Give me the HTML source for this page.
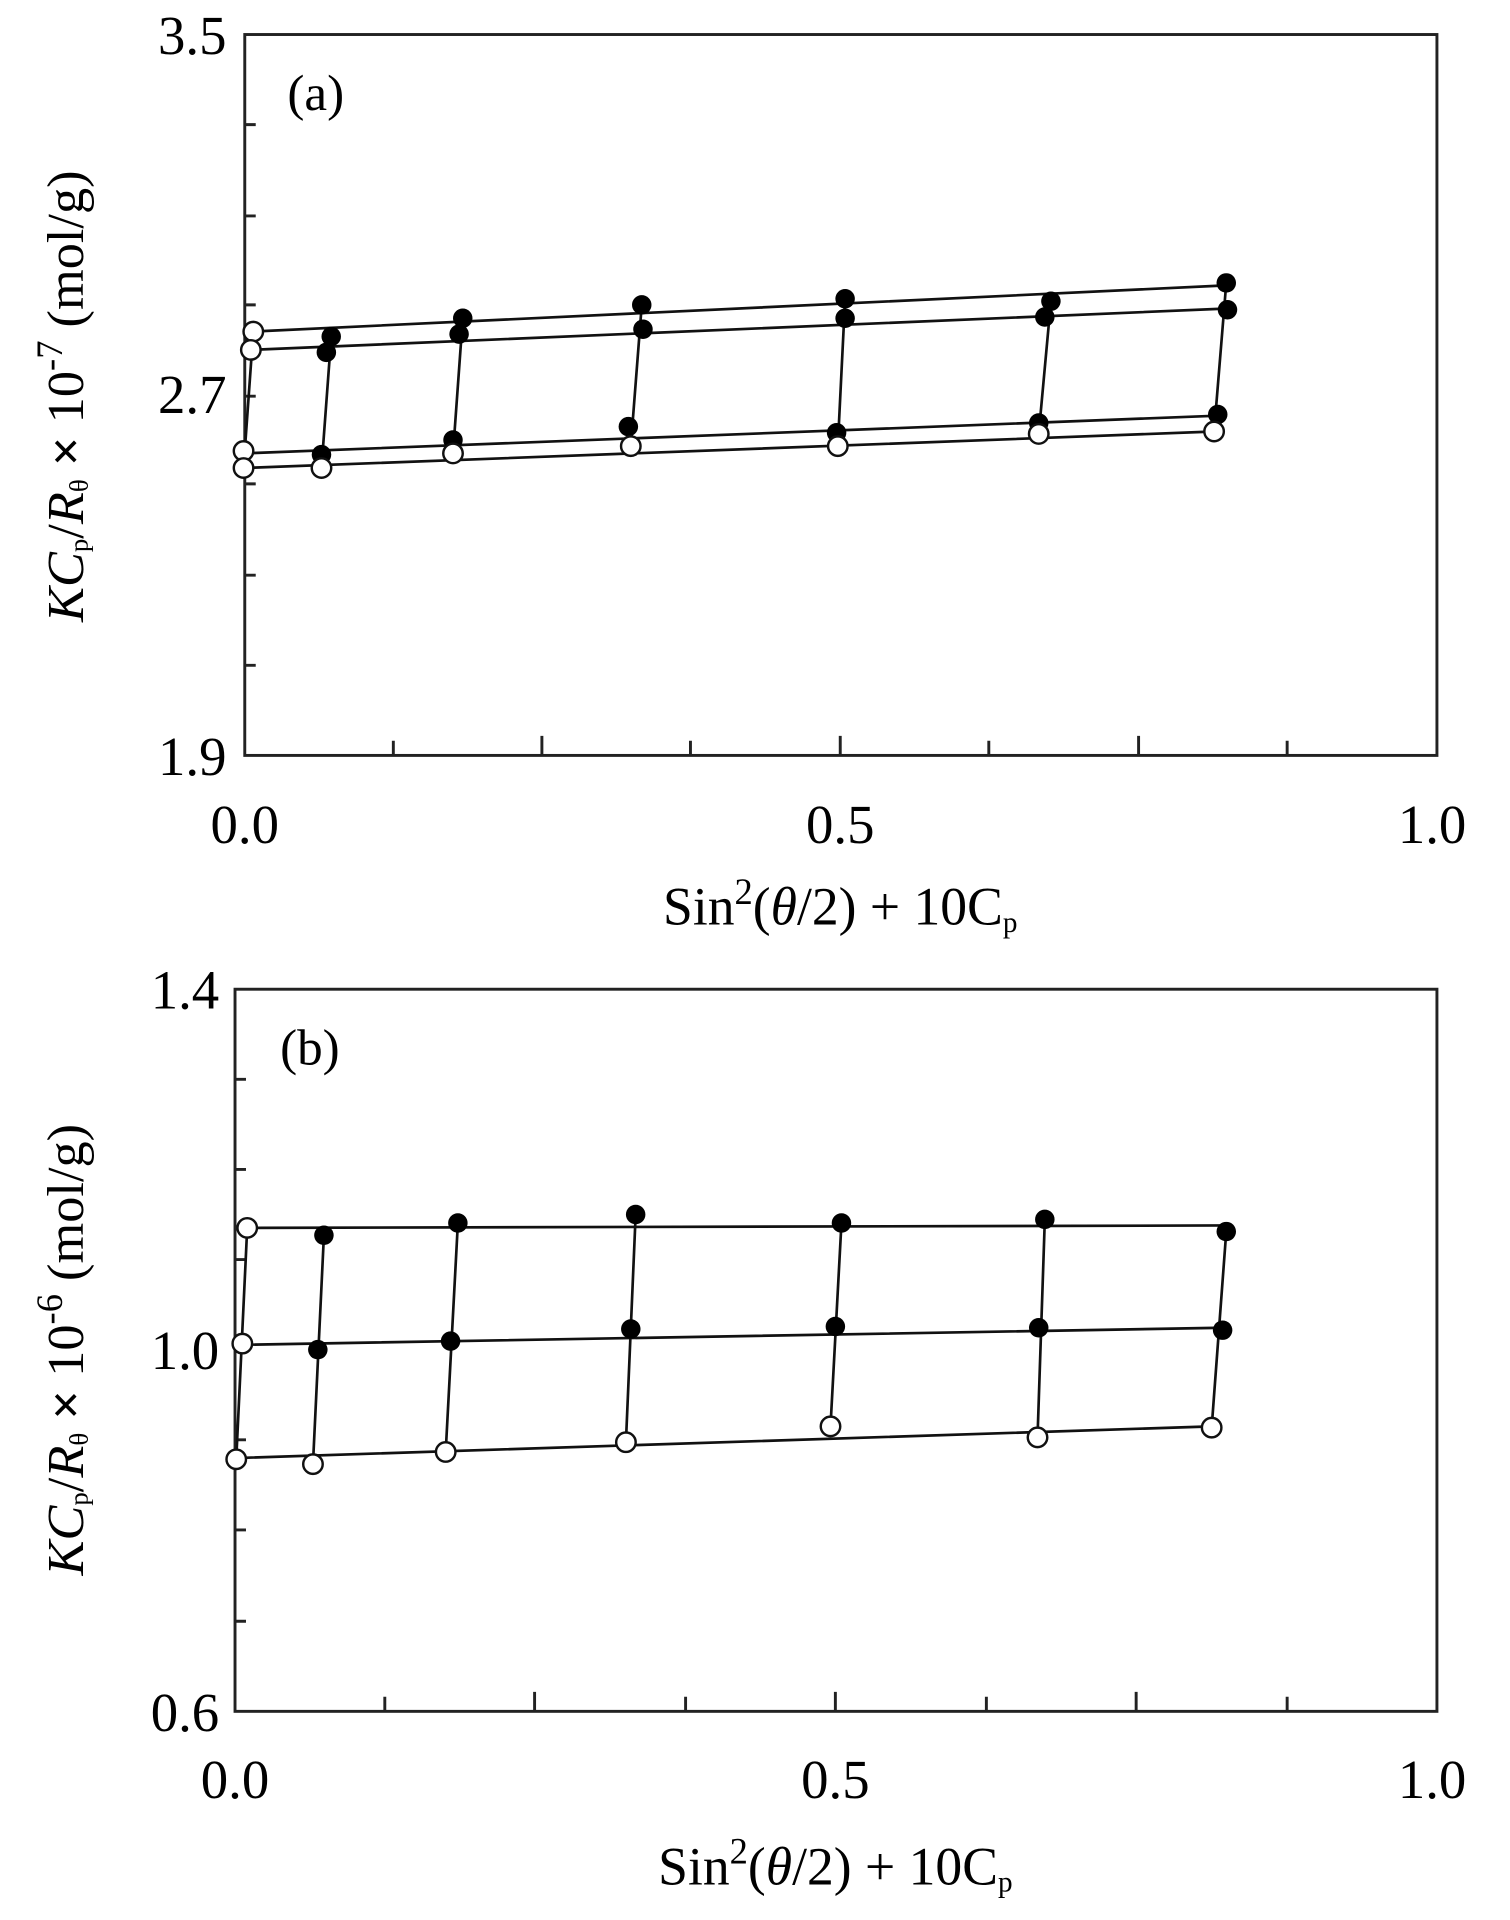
<!DOCTYPE html>
<html><head><meta charset="utf-8"><style>html,body{margin:0;padding:0;background:#fff}svg{display:block}</style></head><body>
<svg width="1510" height="1920" viewBox="0 0 1240 1576" xmlns="http://www.w3.org/2000/svg" font-family="Liberation Serif, serif" fill="#000">
<g stroke="#222" stroke-width="2.4" fill="none">
<rect x="201" y="28" width="979" height="592"/>
<path d="M201 102h9M201 177h9M201 250h9M201 325h9M201 397h9M201 472h9M201 546h9"/>
<path d="M323 620v-12M445 620v-16M567 620v-12M690 620v-16M812 620v-12M935 620v-16M1057 620v-12"/>
<rect x="193" y="812" width="987" height="593"/>
<path d="M193 886h9M193 960h9M193 1034h9M193 1108h9M193 1182h9M193 1256h9M193 1331h9"/>
<path d="M316 1405v-12M439 1405v-16M563 1405v-12M686 1405v-16M810 1405v-12M933 1405v-16M1057 1405v-12"/>
</g>
<g stroke="#111" stroke-width="2.2" fill="none">
<path d="M206 272L1007 234M206 287L1008 253M200 372L1000 341M200 384L997 354"/>
<path d="M208 272L200 384M272 276L264 384M380 261L372 372M527 250L518 366M694 245L688 366M863 247L853 356M1007 232L997 354"/>
<path d="M203 1008L1007 1006M199 1104L1004 1090M194 1197L995 1171"/>
<path d="M203 1008L194 1198M266 1014L257 1202M376 1004L366 1192M522 997L514 1184M691 1004L682 1171M858 1001L852 1180M1007 1011L995 1172"/>
</g>
<g fill="#000">
<circle cx="272" cy="276" r="8"/><circle cx="380" cy="261" r="8"/><circle cx="527" cy="250" r="8"/><circle cx="694" cy="245" r="8"/><circle cx="863" cy="247" r="8"/><circle cx="1007" cy="232" r="8"/>
<circle cx="268" cy="289" r="8"/><circle cx="377" cy="274" r="8"/><circle cx="528" cy="270" r="8"/><circle cx="694" cy="261" r="8"/><circle cx="858" cy="260" r="8"/><circle cx="1008" cy="254" r="8"/>
<circle cx="264" cy="373" r="8"/><circle cx="372" cy="361" r="8"/><circle cx="516" cy="350" r="8"/><circle cx="687" cy="355" r="8"/><circle cx="853" cy="347" r="8"/><circle cx="1000" cy="340" r="8"/>
<circle cx="266" cy="1014" r="8"/><circle cx="376" cy="1004" r="8"/><circle cx="522" cy="997" r="8"/><circle cx="691" cy="1004" r="8"/><circle cx="858" cy="1001" r="8"/><circle cx="1007" cy="1011" r="8"/>
<circle cx="261" cy="1108" r="8"/><circle cx="370" cy="1101" r="8"/><circle cx="518" cy="1091" r="8"/><circle cx="686" cy="1089" r="8"/><circle cx="853" cy="1090" r="8"/><circle cx="1004" cy="1092" r="8"/>
</g>
<g fill="#fff" stroke="#111" stroke-width="2">
<circle cx="208" cy="272" r="8"/><circle cx="206" cy="287" r="8"/><circle cx="200" cy="370" r="8"/><circle cx="200" cy="384" r="8"/>
<circle cx="264" cy="384" r="8"/><circle cx="372" cy="372" r="8"/><circle cx="518" cy="366" r="8"/><circle cx="688" cy="366" r="8"/><circle cx="853" cy="356" r="8"/><circle cx="997" cy="354" r="8"/>
<circle cx="203" cy="1008" r="8"/><circle cx="199" cy="1103" r="8"/>
<circle cx="194" cy="1198" r="8"/><circle cx="257" cy="1202" r="8"/><circle cx="366" cy="1192" r="8"/><circle cx="514" cy="1184" r="8"/><circle cx="682" cy="1171" r="8"/><circle cx="852" cy="1180" r="8"/><circle cx="995" cy="1172" r="8"/>
</g>
<g font-size="45" text-anchor="end">
<text x="186" y="44">3.5</text><text x="186" y="339">2.7</text><text x="186" y="636">1.9</text>
<text x="180" y="828">1.4</text><text x="180" y="1124">1.0</text><text x="180" y="1421">0.6</text>
</g>
<g font-size="45" text-anchor="middle">
<text x="201" y="692">0.0</text><text x="690" y="692">0.5</text><text x="1176" y="692">1.0</text>
<text x="193" y="1476">0.0</text><text x="686" y="1476">0.5</text><text x="1176" y="1476">1.0</text>
<text x="690" y="759" font-size="44">Sin<tspan font-size="30" dy="-17">2</tspan><tspan dy="17">(</tspan><tspan font-style="italic">θ</tspan>/2) + 10C<tspan font-size="24" dy="6">p</tspan></text>
<text x="686" y="1547" font-size="44">Sin<tspan font-size="30" dy="-17">2</tspan><tspan dy="17">(</tspan><tspan font-style="italic">θ</tspan>/2) + 10C<tspan font-size="24" dy="6">p</tspan></text>
</g>
<text x="236" y="90" font-size="42">(a)</text>
<text x="230" y="874" font-size="42">(b)</text>
<text transform="translate(68,325) rotate(-90)" font-size="43" text-anchor="middle"><tspan font-style="italic">KC</tspan><tspan font-size="22" dy="4">p</tspan><tspan dy="-4">/</tspan><tspan font-style="italic">R</tspan><tspan font-size="22" dy="4">θ</tspan><tspan dy="-4" font-weight="bold"> × </tspan><tspan>10</tspan><tspan font-size="30" dy="-17">-7</tspan><tspan dy="17"> (mol/g)</tspan></text>
<text transform="translate(68,1108) rotate(-90)" font-size="43" text-anchor="middle"><tspan font-style="italic">KC</tspan><tspan font-size="22" dy="4">p</tspan><tspan dy="-4">/</tspan><tspan font-style="italic">R</tspan><tspan font-size="22" dy="4">θ</tspan><tspan dy="-4" font-weight="bold"> × </tspan><tspan>10</tspan><tspan font-size="30" dy="-17">-6</tspan><tspan dy="17"> (mol/g)</tspan></text>
</svg>
</body></html>
